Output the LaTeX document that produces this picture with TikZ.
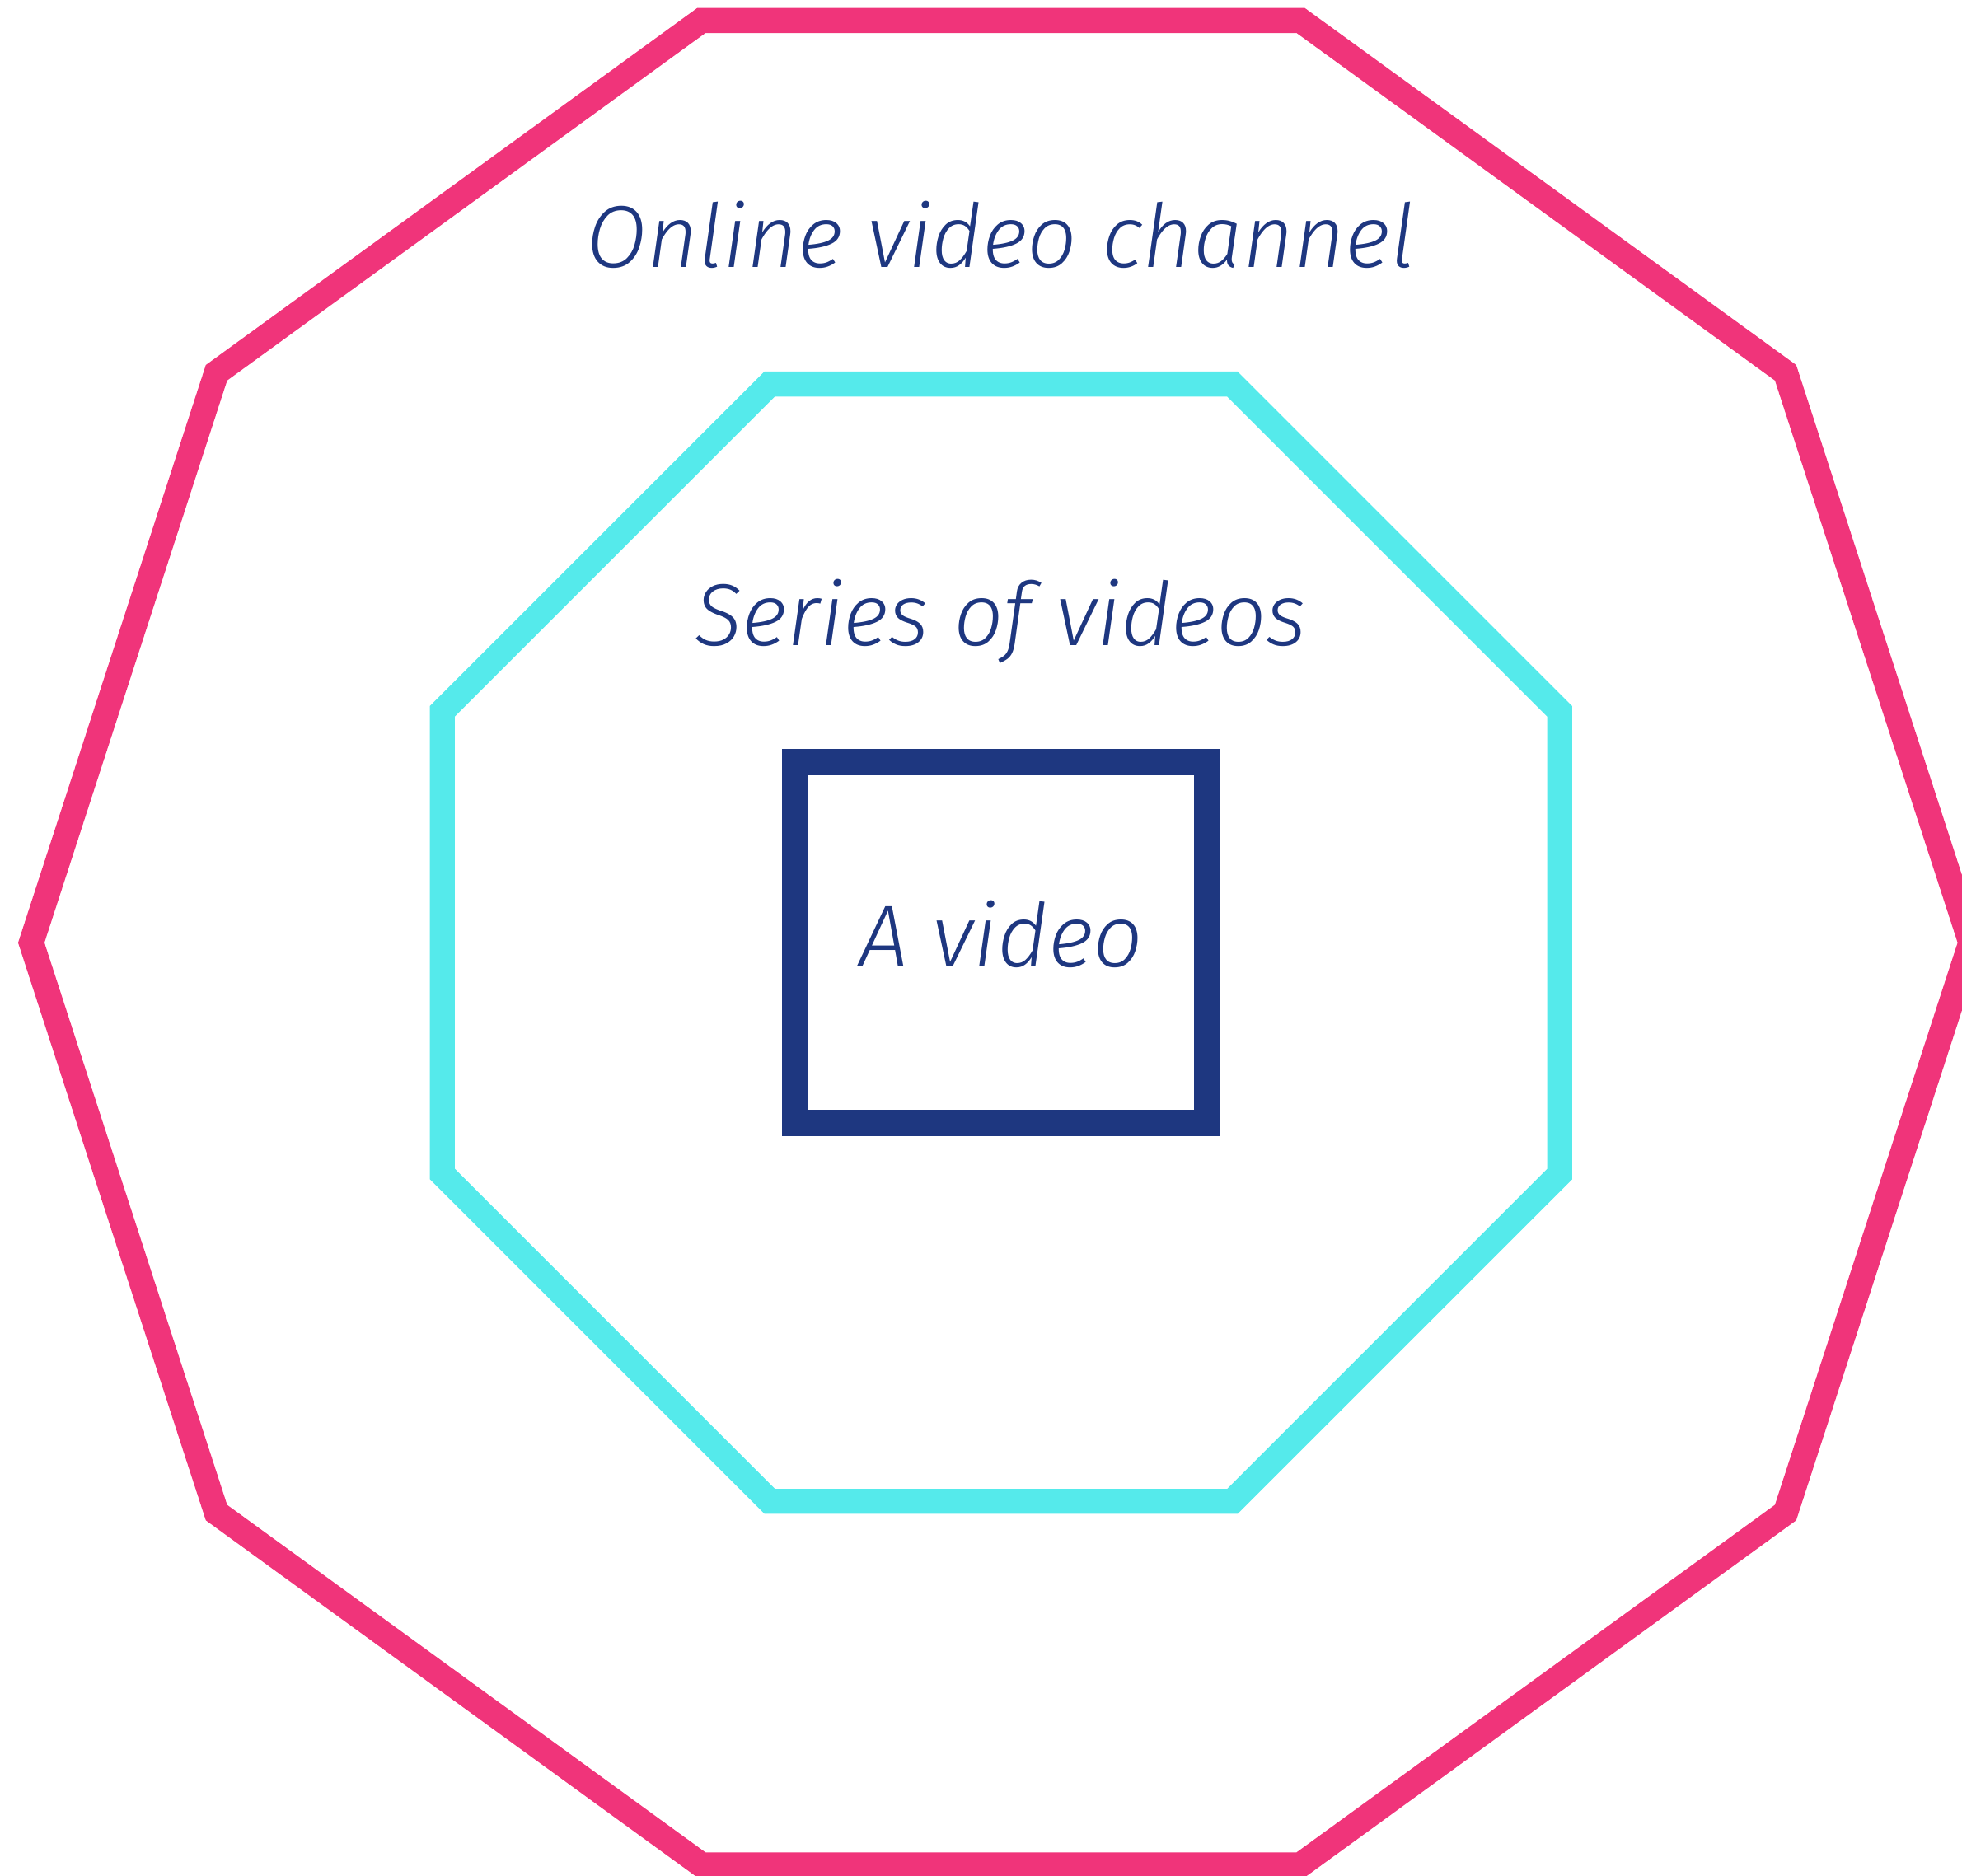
\documentclass[tikz,border=0pt]{standalone}
\usepackage{fontspec}
\setmainfont{Fira Sans}[ItalicFont=* Light Italic]
\usepackage{tikz}
\usetikzlibrary{shapes}
\definecolor{ringpink}{HTML}{F0347A}
\definecolor{ringcyan}{HTML}{55EAEB}
\definecolor{ringnavy}{HTML}{1E3780}
\tikzstyle{ring}=[regular polygon,draw,inner sep=0pt,line width=0.2cm]
\tikzstyle{label}=[anchor=base,text=ringnavy,font=\fontsize{20}{24}\selectfont\itshape,inner sep=0pt]
\newcommand{\tikzpicscale}{1}

\begin{document}
\begin{tikzpicture}[scale=\tikzpicscale]
    \useasboundingbox (-8.00,-7.455) rectangle (7.68,7.535);
    \node[ring,ringpink,regular polygon sides=10,minimum size=15.5cm] (channel) at (0,0) {};
    \node[ring,ringcyan,regular polygon sides=8,minimum size=9.666cm] (series) at (0,0) {};
    \node[draw=ringnavy,line width=0.21cm,minimum width=3.29cm,minimum height=2.885cm,inner sep=0pt] (video) at (0,0) {};
    \node[label] (channeltext) at (0,5.395) {Online video channel};
    \node[label] (seriestext) at (0,2.375) {Series of videos};
    \node[label] (videotext) at (0,-0.195) {A video};
\end{tikzpicture}
\end{document}
